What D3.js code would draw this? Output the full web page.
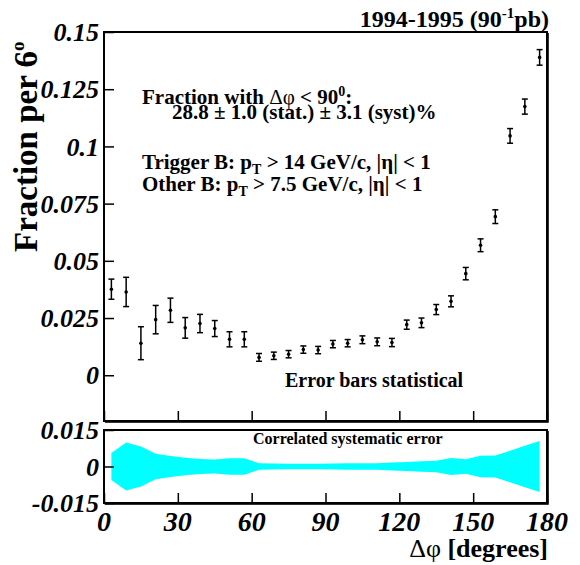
<!DOCTYPE html>
<html><head><meta charset="utf-8">
<script src="https://cdn.jsdelivr.net/npm/d3@7"></script>
<style>
body{margin:0;background:#fff}
text{font-family:"Liberation Serif","Times New Roman",serif;font-weight:bold;fill:#000}
</style>
</head><body>
<svg id="c" width="580" height="565"></svg>
<script>
// ---- data ----
const binCenters = [3,9,15,21,27,33,39,45,51,57,63,69,75,81,87,93,99,105,111,117,123,129,135,141,147,153,159,165,171,177];
const fraction = [0.0376,0.0364,0.0140,0.0243,0.0284,0.0207,0.0226,0.0204,0.0157,0.0157,
                  0.0078,0.0085,0.0092,0.0112,0.0110,0.0136,0.0140,0.0155,0.0146,0.0143,
                  0.0221,0.0229,0.0287,0.0323,0.0444,0.0568,0.0693,0.1046,0.1174,0.1389];
const statErr  = [0.0044,0.0064,0.0072,0.0062,0.0053,0.0045,0.0040,0.0035,0.0033,0.0033,
                  0.0017,0.0016,0.0016,0.0016,0.0016,0.0016,0.0016,0.0017,0.0017,0.0018,
                  0.0020,0.0021,0.0022,0.0024,0.0027,0.0028,0.0030,0.0032,0.0033,0.0034];
const systErr  = [0.0055,0.0099,0.0082,0.0052,0.0043,0.0036,0.0031,0.0029,0.0034,0.0034,
                  0.0013,0.0012,0.0011,0.0011,0.0011,0.0012,0.0013,0.0013,0.0013,0.0016,
                  0.0019,0.0022,0.0024,0.0035,0.0030,0.0044,0.0045,0.0065,0.0085,0.0105];
const xTicks = [0,30,60,90,120,150,180];
const xTickLabels = ["0","30","60","90","120","150","180"];
const yTicks = [0,0.025,0.05,0.075,0.1,0.125,0.15];
const yTickLabels = ["0","0.025","0.05","0.075","0.1","0.125","0.15"];
const lowTicks = [-0.015,0,0.015];
const lowTickLabels = ["-0.015","0","0.015"];

// ---- layout ----
const L = 104, R = 547;
const mainT = 32, mainB = 421;
const lowT = 430, lowB = 503;

const svg = d3.select("#c");
const x = d3.scaleLinear().domain([0,180]).range([L,R]);
const y = d3.scaleLinear().domain([-0.02,0.15]).range([mainB,mainT]);
const yl = d3.scaleLinear().domain([-0.015,0.015]).range([lowB,lowT]);

// ---- lower band ----
const band = binCenters.map((c,i)=>({c, h:systErr[i]}));
svg.append("path").datum(band)
  .attr("d", d3.area().x(d=>x(d.c)).y0(d=>yl(-d.h)).y1(d=>yl(d.h)))
  .attr("fill","#00ffff");

// ---- frames ----
function frame(t,b){
  svg.append("rect").attr("x",L).attr("y",t).attr("width",R-L).attr("height",b-t)
    .attr("fill","none").attr("stroke","#000").attr("stroke-width",2);
  svg.append("path").attr("d",`M${R+1.5},${t+1}V${b+1.5}H${L+1}`)
    .attr("fill","none").attr("stroke","#333").attr("stroke-width",1);
}
frame(mainT,mainB);
frame(lowT,lowB);

// ---- axes (ticks inward) ----
const tickLen = 10;
svg.append("g").attr("transform",`translate(${L},0)`)
  .call(d3.axisRight(y).tickValues(yTicks).tickSize(tickLen).tickFormat(""))
  .call(g=>g.select(".domain").remove())
  .call(g=>g.selectAll("line").attr("stroke-width",1.5));
svg.append("g").attr("transform",`translate(0,${mainB})`)
  .call(d3.axisTop(x).tickValues(xTicks).tickSize(tickLen).tickFormat(""))
  .call(g=>g.select(".domain").remove())
  .call(g=>g.selectAll("line").attr("stroke-width",1.5));
svg.append("g").attr("transform",`translate(0,${lowB})`)
  .call(d3.axisTop(x).tickValues(xTicks).tickSize(tickLen).tickFormat(""))
  .call(g=>g.select(".domain").remove())
  .call(g=>g.selectAll("line").attr("stroke-width",1.5));
svg.append("g").attr("transform",`translate(${L},0)`)
  .call(d3.axisRight(yl).tickValues(lowTicks).tickSize(tickLen).tickFormat(""))
  .call(g=>g.select(".domain").remove())
  .call(g=>g.selectAll("line").attr("stroke-width",1.5));

// tick labels
svg.append("g").selectAll("text").data(yTicks).join("text")
  .attr("x",99).attr("y",d=>y(d)).attr("dy","0.35em").attr("text-anchor","end")
  .style("font-style","italic").style("font-size","26px")
  .text((d,i)=>yTickLabels[i]);
svg.append("g").selectAll("text").data(lowTicks).join("text")
  .attr("x",99).attr("y",d=>yl(d)).attr("dy","0.35em").attr("text-anchor","end")
  .style("font-style","italic").style("font-size","26px")
  .text((d,i)=>lowTickLabels[i]);
svg.append("g").selectAll("text").data(xTicks).join("text")
  .attr("x",d=>x(d)).attr("y",531).attr("text-anchor","middle")
  .style("font-style","italic").style("font-size","28px")
  .text((d,i)=>xTickLabels[i]);

// ---- error bars ----
const pts = binCenters.map((c,i)=>({c, v:fraction[i], e:statErr[i]}));
const eb = svg.append("g").attr("stroke","#000").attr("stroke-width",1.5);
eb.selectAll("line.v").data(pts).join("line").attr("class","v")
  .attr("x1",d=>x(d.c)).attr("x2",d=>x(d.c)).attr("y1",d=>y(d.v-d.e)).attr("y2",d=>y(d.v+d.e));
eb.selectAll("line.t").data(pts).join("line").attr("class","t")
  .attr("x1",d=>x(d.c)-3).attr("x2",d=>x(d.c)+3).attr("y1",d=>y(d.v+d.e)).attr("y2",d=>y(d.v+d.e));
eb.selectAll("line.b").data(pts).join("line").attr("class","b")
  .attr("x1",d=>x(d.c)-3).attr("x2",d=>x(d.c)+3).attr("y1",d=>y(d.v-d.e)).attr("y2",d=>y(d.v-d.e));
svg.append("g").selectAll("circle").data(pts).join("circle")
  .attr("cx",d=>x(d.c)).attr("cy",d=>y(d.v)).attr("r",1.8).attr("fill","#000");

// ---- texts ----
const t1 = svg.append("text").attr("x",549).attr("y",27).attr("text-anchor","end").style("font-size","24px");
t1.append("tspan").text("1994-1995 (90");
t1.append("tspan").attr("dy",-9).style("font-size","15px").text("-1");
t1.append("tspan").attr("dy",9).text("pb)");

const yt = svg.append("text").attr("transform","translate(37,252) rotate(-90)").style("font-size","33px");
yt.append("tspan").text("Fraction per 6");
yt.append("tspan").attr("dy",-13).style("font-size","19px").text("o");

const xt = svg.append("text").attr("x",548).attr("y",557).attr("text-anchor","end").style("font-size","26px");
xt.append("tspan").style("font-weight","normal").text("Δφ ");
xt.append("tspan").text("[degrees]");

svg.append("text").attr("x",142).attr("y",104).style("font-size","21px")
  .html('Fraction with <tspan style="font-weight:normal">Δφ</tspan> &lt; 90<tspan dy="-8" style="font-size:14px">0</tspan><tspan dy="8">:</tspan>');
svg.append("text").attr("x",172).attr("y",119).style("font-size","21px")
  .text("28.8 ± 1.0 (stat.) ± 3.1 (syst)%");

function ptLine(yy, pre, post){
  svg.append("text").attr("x",142).attr("y",yy).style("font-size","21px")
    .html(`${pre}<tspan dy="5" style="font-size:14px">T</tspan><tspan dy="-5">${post}</tspan>`);
}
ptLine(169, "Trigger B: p", " &gt; 14 GeV/c, |η| &lt; 1");
ptLine(191, "Other B: p", " &gt; 7.5 GeV/c, |η| &lt; 1");

svg.append("text").attr("x",285).attr("y",387).style("font-size","20px").text("Error bars statistical");
svg.append("text").attr("x",253).attr("y",444).style("font-size","16px").text("Correlated systematic error");
</script>
</body></html>
